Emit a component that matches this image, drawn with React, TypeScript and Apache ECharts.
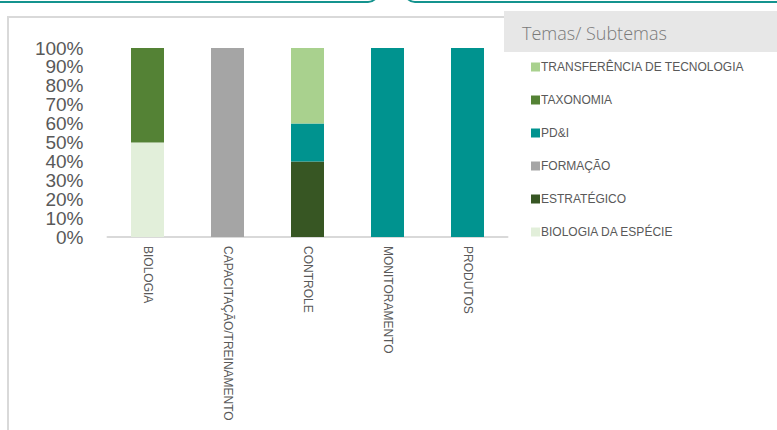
import React, { useEffect, useRef } from "react";
import * as echarts from "echarts";

const categories = ["BIOLOGIA", "CAPACITAÇÃO/TREINAMENTO", "CONTROLE", "MONITORAMENTO", "PRODUTOS"];
const biologiaDaEspecie = [50, 0, 0, 0, 0];
const estrategico = [0, 0, 40, 0, 0];
const formacao = [0, 100, 0, 0, 0];
const pdi = [0, 0, 20, 100, 100];
const taxonomia = [50, 0, 0, 0, 0];
const transferencia = [0, 0, 40, 0, 0];
const yTicks = [0, 10, 20, 30, 40, 50, 60, 70, 80, 90, 100];

const seriesDefs = [
  { name: "BIOLOGIA DA ESPÉCIE", data: biologiaDaEspecie, color: "#E2EFDA" },
  { name: "ESTRATÉGICO", data: estrategico, color: "#375623" },
  { name: "FORMAÇÃO", data: formacao, color: "#A5A5A5" },
  { name: "PD&I", data: pdi, color: "#00938F" },
  { name: "TAXONOMIA", data: taxonomia, color: "#548235" },
  { name: "TRANSFERÊNCIA DE TECNOLOGIA", data: transferencia, color: "#A9D18E" },
];

export default function App() {
  const ref = useRef<HTMLDivElement>(null);
  useEffect(() => {
    const chart = echarts.init(ref.current!, null, { renderer: "svg" });
    chart.setOption({
      animation: false,
      backgroundColor: "#ffffff",
      graphic: [
        { type: "rect", shape: { x: -20, y: -40, width: 398, height: 42, r: 10 }, style: { fill: "#ffffff", stroke: "#14938E", lineWidth: 2 }, z: 10 },
        { type: "rect", shape: { x: 405, y: -40, width: 400, height: 42, r: 10 }, style: { fill: "#ffffff", stroke: "#14938E", lineWidth: 2 }, z: 10 },
        { type: "line", shape: { x1: 8, y1: 17, x2: 8, y2: 432 }, style: { stroke: "#D9D9D9", lineWidth: 2 } },
        { type: "line", shape: { x1: 7, y1: 17, x2: 505, y2: 17 }, style: { stroke: "#D9D9D9", lineWidth: 2 } },
        { type: "rect", shape: { x: 504, y: 11, width: 280, height: 41 }, style: { fill: "#E7E7E7" } },
        {
          type: "text",
          x: 522,
          y: 33,
          style: {
            text: "Temas/ Subtemas",
            fill: "#7A7A7A",
            font: "300 18px 'Open Sans', sans-serif",
            verticalAlign: "middle",
          },
        },
      ],
      legend: {
        orient: "vertical",
        left: 526,
        top: 56,
        itemGap: 21,
        itemWidth: 9,
        itemHeight: 9,
        icon: "rect",
        data: seriesDefs.map((s) => s.name).reverse(),
        textStyle: {
          color: "#595959",
          fontSize: 12,
          fontFamily: "'Liberation Sans', Arial, sans-serif",
          padding: [0, 0, 0, -4],
        },
      },
      grid: { left: 107.5, right: 269.5, top: 48, bottom: 193, containLabel: false },
      xAxis: {
        type: "category",
        data: categories,
        axisLine: { lineStyle: { color: "#D9D9D9", width: 2 } },
        axisTick: { show: false },
        axisLabel: {
          rotate: -90,
          color: "#595959",
          fontSize: 12,
          fontFamily: "'Liberation Sans', Arial, sans-serif",
          margin: 9,
          interval: 0,
        },
      },
      yAxis: {
        type: "value",
        min: 0,
        max: 100,
        interval: 10,
        splitLine: { show: false },
        axisLine: { show: false },
        axisTick: { show: false },
        axisLabel: {
          color: "#595959",
          fontSize: 19,
          fontFamily: "'Liberation Sans', Arial, sans-serif",
          margin: 24,
          lineHeight: 15,
          showMinLabel: true,
          showMaxLabel: true,
          formatter: (v: number) => (yTicks.includes(v) ? v + "%" : ""),
        },
      },
      series: seriesDefs.map((s) => ({
        name: s.name,
        type: "bar",
        stack: "total",
        data: s.data,
        barWidth: 33,
        itemStyle: { color: s.color },
      })),
    });
    return () => chart.dispose();
  }, []);
  return (
    <div
      ref={ref}
      style={{ position: "fixed", left: 0, top: 0, width: 777, height: 430 }}
    />
  );
}
